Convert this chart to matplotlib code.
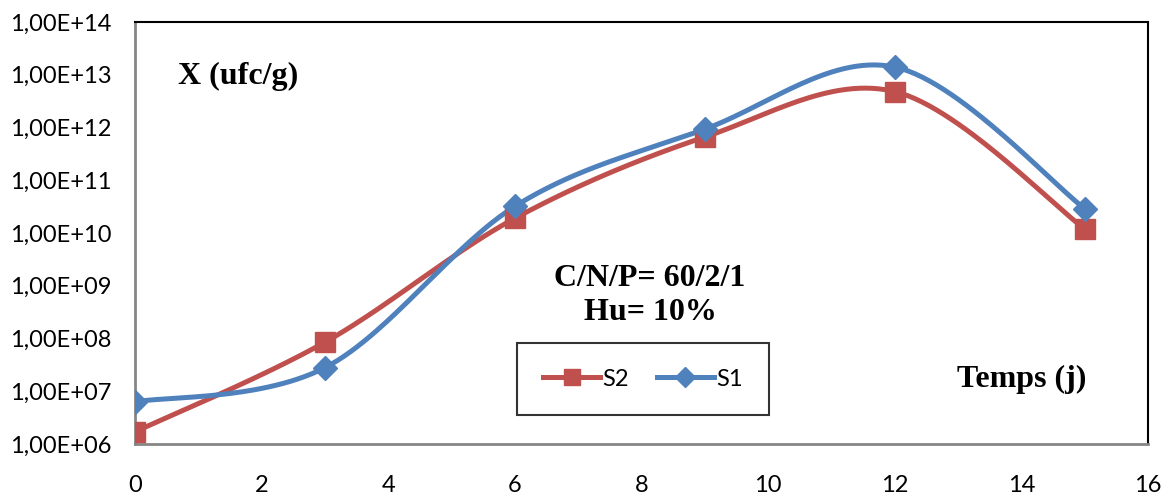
import numpy as np
import matplotlib
matplotlib.use("Agg")
import matplotlib.pyplot as plt
from matplotlib.ticker import FixedLocator, FixedFormatter

# Sampling days (j) and bacterial counts X (ufc/g)
days = [0, 3, 6, 9, 12, 15]
s2_counts = [1.7e6, 8.5e7, 1.9e10, 6.6e11, 4.8e12, 1.2e10]
s1_counts = [6.3e6, 2.8e7, 3.2e10, 9.3e11, 1.4e13, 2.9e10]

y_ticks = [1e6, 1e7, 1e8, 1e9, 1e10, 1e11, 1e12, 1e13, 1e14]
y_tick_labels = ["1,00E+06", "1,00E+07", "1,00E+08", "1,00E+09", "1,00E+10",
                 "1,00E+11", "1,00E+12", "1,00E+13", "1,00E+14"]
x_ticks = [0, 2, 4, 6, 8, 10, 12, 14, 16]

RED = "#C0504D"
BLUE = "#4F81BD"
TICK_FONT = "Lato"
TITLE_FONT = "Liberation Serif"


def smooth(xs, ys, n=60):
    """Cubic Bezier smoothing (Catmull-Rom style) in x / log10(y) space."""
    x = np.asarray(xs, float)
    y = np.log10(np.asarray(ys, float))
    px = np.concatenate([[x[0]], x, [x[-1]]])
    py = np.concatenate([[y[0]], y, [y[-1]]])
    out_x, out_y = [], []
    t = np.linspace(0, 1, n)
    for i in range(1, len(px) - 2):
        p0 = np.array([px[i], py[i]])
        p3 = np.array([px[i + 1], py[i + 1]])
        c1 = p0 + (np.array([px[i + 1], py[i + 1]]) - np.array([px[i - 1], py[i - 1]])) / 6
        c2 = p3 - (np.array([px[i + 2], py[i + 2]]) - np.array([px[i], py[i]])) / 6
        b = ((1 - t) ** 3)[:, None] * p0 + (3 * (1 - t) ** 2 * t)[:, None] * c1 \
            + (3 * (1 - t) * t ** 2)[:, None] * c2 + (t ** 3)[:, None] * p3
        out_x.append(b[:, 0])
        out_y.append(b[:, 1])
    return np.concatenate(out_x), 10 ** np.concatenate(out_y)


fig = plt.figure(figsize=(11.68, 4.97), dpi=100)
ax = fig.add_axes([135 / 1168, 1 - 444 / 497, (1148 - 135) / 1168, (444 - 22) / 497])

for counts, color, marker, msize, label in [
    (s2_counts, RED, "s", 14, "S2"),
    (s1_counts, BLUE, "D", 12, "S1"),
]:
    sx, sy = smooth(days, counts)
    ax.plot(sx, sy, color=color, lw=3.6, solid_capstyle="round", zorder=3)
    ax.plot(days, counts, linestyle="none", marker=marker, ms=msize,
            color=color, mec=color, zorder=4)
    ax.plot([], [], color=color, lw=3.6, marker=marker, ms=msize * 0.85,
            label=label)

ax.set_yscale("log")
ax.set_ylim(1e6, 1e14)
ax.set_xlim(0, 16)
ax.yaxis.set_major_locator(FixedLocator(y_ticks))
ax.yaxis.set_major_formatter(FixedFormatter(y_tick_labels))
ax.yaxis.set_minor_locator(FixedLocator([]))
ax.set_xticks(x_ticks)
ax.set_xticklabels([str(v) for v in x_ticks])
ax.tick_params(length=0, labelsize=17, labelcolor="black")
ax.tick_params(axis="y", pad=17)
ax.tick_params(axis="x", pad=22)
for lab in ax.get_xticklabels() + ax.get_yticklabels():
    lab.set_fontfamily(TICK_FONT)

for side in ("top", "right"):
    ax.spines[side].set_color("black")
    ax.spines[side].set_linewidth(1.5)
for side in ("left", "bottom"):
    ax.spines[side].set_color("#868686")
    ax.spines[side].set_linewidth(2)

bold = dict(family=TITLE_FONT, fontweight="bold", color="black")
fig.text(178 / 1168, 1 - 76 / 497, "X (ufc/g)", fontsize=23, va="center", ha="left", **bold)
fig.text(650 / 1168, 1 - 279 / 497, "C/N/P= 60/2/1", fontsize=23, va="center", ha="center", **bold)
fig.text(650 / 1168, 1 - 313 / 497, "Hu= 10%", fontsize=23, va="center", ha="center", **bold)
fig.text(1086 / 1168, 1 - 379 / 497, "Temps (j)", fontsize=23, va="center", ha="right", **bold)

leg = ax.legend(loc="center", bbox_to_anchor=((643 - 135) / 1013, (444 - 379) / 422),
                ncol=2, frameon=True, fancybox=False, edgecolor="black",
                prop={"family": TICK_FONT, "size": 17}, handlelength=2.4,
                handletextpad=0.1, columnspacing=1.2, borderpad=1.1,
                borderaxespad=0)
leg.get_frame().set_linewidth(1.5)

fig.savefig("out.png", dpi=100)
